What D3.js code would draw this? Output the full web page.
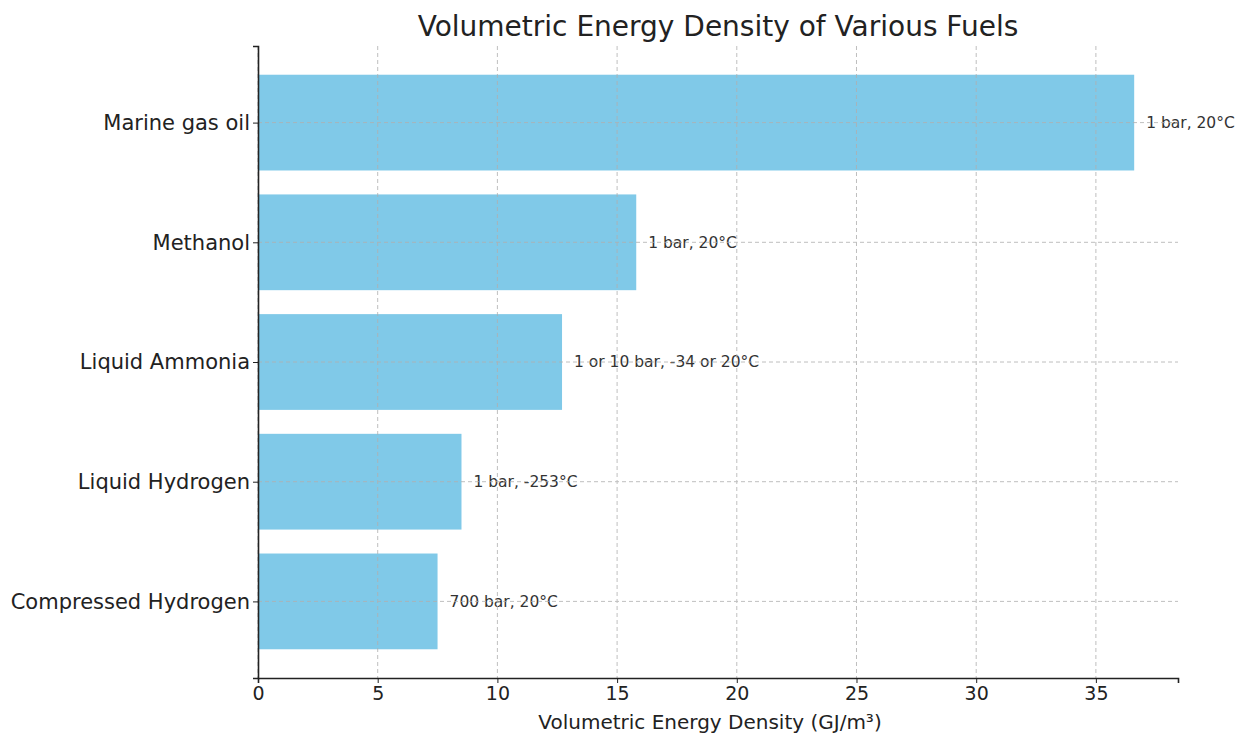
<!DOCTYPE html>
<html>
<head>
<meta charset="utf-8">
<script src="https://cdn.jsdelivr.net/npm/d3@7"></script>
<style>
  body { margin: 0; background: #fff; }
  svg text { font-family: "DejaVu Sans", sans-serif; fill: #222; }
</style>
</head>
<body>
<div id="chart"></div>
<script>
const fuels = ["Marine gas oil", "Methanol", "Liquid Ammonia", "Liquid Hydrogen", "Compressed Hydrogen"];
const density = [36.6, 15.8, 12.7, 8.5, 7.5];
const conditions = ["1 bar, 20°C", "1 bar, 20°C", "1 or 10 bar, -34 or 20°C", "1 bar, -253°C", "700 bar, 20°C"];
const xTicks = [0, 5, 10, 15, 20, 25, 30, 35];

const data = fuels.map((f, i) => ({ fuel: f, value: density[i], note: conditions[i] }));

const margin = { top: 46, right: 59, bottom: 57, left: 258 },
      width = 1237 - margin.left - margin.right,
      height = 735 - margin.top - margin.bottom;

const svg = d3.select("#chart")
    .append("svg")
    .attr("width", 1237)
    .attr("height", 735)
  .append("g")
    .attr("transform", `translate(${margin.left},${margin.top})`);

// matplotlib-like limits: 5% padding
const x = d3.scaleLinear().domain([0, d3.max(density) * 1.05]).range([0, width]);
const y = d3.scaleLinear().domain([-0.64, fuels.length - 1 + 0.64]).range([0, height]);
const barH = y(0.8) - y(0);

// bars
svg.selectAll("rect.bar")
    .data(data)
    .enter()
    .append("rect")
    .attr("class", "bar")
    .attr("x", 0)
    .attr("y", (d, i) => y(i) - barH / 2)
    .attr("width", d => x(d.value))
    .attr("height", barH)
    .attr("fill", "#80c9e8");

// condition labels
svg.selectAll("text.note")
    .data(data)
    .enter()
    .append("text")
    .attr("class", "note")
    .attr("x", d => x(d.value + 0.5))
    .attr("y", (d, i) => y(i))
    .attr("dy", "0.35em")
    .style("font-size", "15.5px")
    .style("fill", "#333")
    .text(d => d.note);

// grid (drawn on top, dashed)
const grid = svg.append("g").attr("stroke", "#b0b0b0").attr("stroke-dasharray", "4,3").attr("stroke-width", 1).attr("opacity", 0.8);
grid.selectAll("line.vx")
    .data(xTicks)
    .enter()
    .append("line")
    .attr("x1", d => x(d)).attr("x2", d => x(d))
    .attr("y1", 0).attr("y2", height);
grid.selectAll("line.hy")
    .data(fuels)
    .enter()
    .append("line")
    .attr("x1", 0).attr("x2", width)
    .attr("y1", (d, i) => y(i)).attr("y2", (d, i) => y(i));

// X axis
const xAxis = svg.append("g")
    .attr("transform", `translate(0,${height})`)
    .call(d3.axisBottom(x).tickValues(xTicks).tickSize(5).tickPadding(4));
xAxis.selectAll("text").style("font-size", "19px");

// Y axis
const yAxis = svg.append("g")
    .call(d3.axisLeft(y).tickValues(d3.range(fuels.length)).tickFormat(i => fuels[i]).tickSize(5).tickPadding(3));
yAxis.selectAll("text").style("font-size", "21px");

svg.selectAll(".domain").attr("stroke", "#222").attr("stroke-width", 1.6);
svg.selectAll(".tick line").attr("stroke", "#222");

// X axis label
svg.append("text")
    .attr("text-anchor", "middle")
    .attr("x", width / 2 - 8)
    .attr("y", height + 51)
    .style("font-size", "20px")
    .text("Volumetric Energy Density (GJ/m³)");

// title
svg.append("text")
    .attr("text-anchor", "middle")
    .attr("x", width / 2)
    .attr("y", -10)
    .style("font-size", "28px")
    .text("Volumetric Energy Density of Various Fuels");
</script>
</body>
</html>
